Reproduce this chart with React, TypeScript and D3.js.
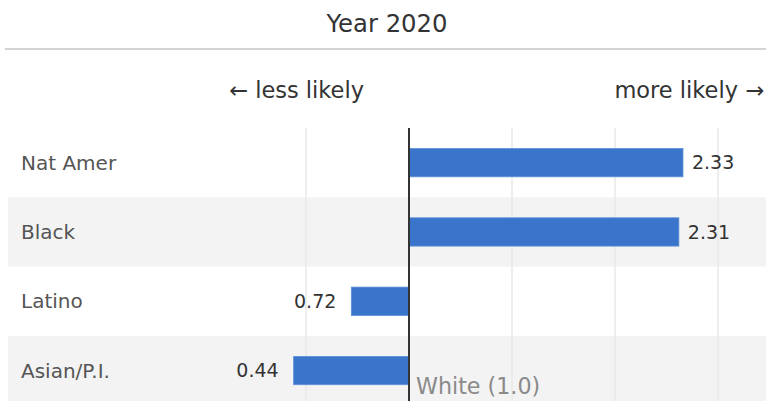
import React from "react";
import * as d3 from "d3";

const categories = ["Nat Amer", "Black", "Latino", "Asian/P.I."];
const values = [2.33, 2.31, 0.72, 0.44];
const gridTicks = [0.5, 1.5, 2.0, 2.5];
const baselineValue = 1.0;
const title = "Year 2020";
const leftHint = "← less likely";
const rightHint = "more likely →";
const baselineLabel = "White (1.0)";

const W = 766;
const H = 401;
const FONT = "'DejaVu Sans', 'Open Sans', sans-serif";

export default function App() {
  const x = d3.scaleLinear().domain([0.5, 2.5]).range([306, 718]);
  const y = d3.scaleBand().domain(categories).range([128, 128 + 69.3 * 4]).paddingInner(0).paddingOuter(0);
  const barH = 28.3;
  const x0 = x(baselineValue);

  return (
    <svg width={W} height={H} style={{ position: "absolute", left: 0, top: 0, background: "#fff" }}>
      <text x={387} y={32} textAnchor="middle" fontFamily={FONT} fontSize={24.3} fill="#333">
        {title}
      </text>
      <line x1={5} x2={W} y1={49} y2={49} stroke="#d4d4d4" strokeWidth={2} />
      <text x={364} y={98} textAnchor="end" fontFamily={FONT} fontSize={22.5} fill="#333">
        {leftHint}
      </text>
      <text x={764} y={98} textAnchor="end" fontFamily={FONT} fontSize={22.5} fill="#333">
        {rightHint}
      </text>

      {categories.map((c, i) =>
        i % 2 === 1 ? (
          <rect key={"band" + c} x={8} y={y(c)} width={W - 8} height={y.bandwidth()} fill="#f3f3f3" />
        ) : null
      )}

      {gridTicks.map((t) => (
        <line key={"g" + t} x1={x(t)} x2={x(t)} y1={128} y2={H} stroke="#e9e9e9" strokeWidth={1.5} />
      ))}

      {categories.map((c, i) => {
        const v = values[i];
        const cy = (y(c) as number) + y.bandwidth() / 2;
        const xv = x(v);
        const left = Math.min(xv, x0);
        const w = Math.abs(xv - x0);
        return (
          <g key={"row" + c}>
            <text x={21} y={cy} dy="0.36em" fontFamily={FONT} fontSize={20} fill="#555">
              {c}
            </text>
            <rect x={left} y={cy - barH / 2} width={w} height={barH} fill="#3a75cb" stroke="#5b8fd8" strokeWidth={0.8} />
            <text
              x={v >= baselineValue ? xv + 9 : xv - 15}
              y={cy}
              dy="0.36em"
              textAnchor={v >= baselineValue ? "start" : "end"}
              fontFamily={FONT}
              fontSize={19}
              fill="#333"
            >
              {v.toFixed(2)}
            </text>
          </g>
        );
      })}

      <line x1={x0} x2={x0} y1={128} y2={H} stroke="#333" strokeWidth={2} />
      <text x={416} y={394} fontFamily={FONT} fontSize={22.2} fill="#8a8a8a">
        {baselineLabel}
      </text>
    </svg>
  );
}
